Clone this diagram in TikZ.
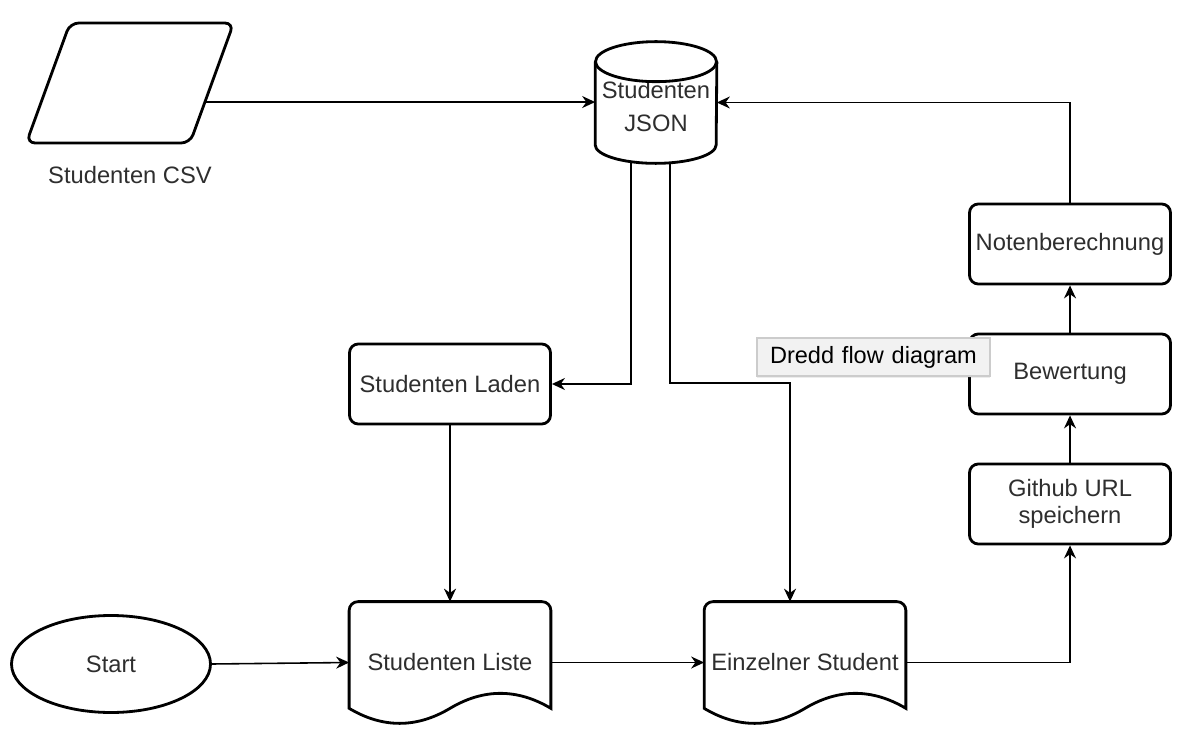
\documentclass[tikz,border=0pt]{standalone}
\usepackage{fontspec}
\setmainfont{Liberation Sans}
\usepackage{tikz}
\usetikzlibrary{calc,shapes,positioning}
\usetikzlibrary{arrows.meta}
\usetikzlibrary{shadows}
\tikzset{>={Stealth[width=2.4mm,length=2.6mm]}}

% outline of a flowchart document (wavy bottom) around a node
\newcommand{\docoutline}[1]{%
  \draw[line width=1.6pt]
    ($(#1.south west)+(0,0.3)$) [rounded corners=5pt] -- (#1.north west) -- (#1.north east)
    [sharp corners] -- ($(#1.south east)+(0,0.3)$)
    .. controls +(-0.67,0.4) and +(0.67,0.4) .. ($(#1.south)+(0,0.3)$)
    .. controls +(-0.67,-0.4) and +(0.67,-0.4) .. cycle;}
% outline of a database cylinder around a node
\newcommand{\dboutline}[1]{%
  \draw[line width=1.6pt] ($(#1.north west)+(0,-0.4)$) -- ($(#1.south west)+(0,0.37)$)
    arc[start angle=180, end angle=360, x radius=1.21cm, y radius=0.37cm]
    -- ($(#1.north east)+(0,-0.4)$);
  \draw[line width=1.6pt] ($(#1.north)+(0,-0.4)$) ellipse[x radius=1.21cm, y radius=0.4cm];}

\begin{document}
\begin{tikzpicture}
      \tikzstyle{txt} = [font=\fontsize{13.5}{15.5}\selectfont, text=black!82]
      \tikzstyle{pnode} = [txt, draw, line width=1.6pt, rectangle, rounded corners = 5pt, minimum width=4.02cm, minimum height=1.6cm, inner sep=2pt, align=center]
      \tikzstyle{dnode} = [txt, rectangle, minimum width=4.02cm, minimum height=2.42cm, inner sep=2pt]
      \tikzstyle{dbnode} = [txt, rectangle, minimum width=2.42cm, minimum height=2.42cm, inner sep=1pt, align=center]
      \tikzstyle{ionode} = [trapezium, trapezium left angle=70, trapezium right angle=110, draw, line width=1.6pt, rounded corners=5pt, minimum width=4cm, minimum height=2.4cm]
      \tikzstyle{tnode} = [txt, ellipse, draw, line width=1.6pt, minimum width=3.98cm, minimum height=1.94cm]
      \tikzstyle{tipnode} = [rectangle, draw=black!20, fill=black!5, line width=0.6pt, minimum width=4.66cm, minimum height=0.76cm, inner xsep=0.26cm, text width=4.14cm, align=left, text=black, font=\fontsize{13.4}{16}\selectfont, drop shadow={opacity=0.15, shadow xshift=0pt, shadow yshift=-1pt}]
      \tikzstyle{conn} = [line width=0.9pt, ->]

      \path[use as bounding box, fill=white] (0,0) rectangle (23.88,-14.96);

      \node[ionode, label={[txt, label distance=0.32cm]below:Studenten CSV}] (csv) at (2.6,-1.66) {};
      \node[dbnode] (json) at (13.12,-2.05) {\raisebox{-4pt}[\height][\depth]{\begin{tabular}{@{}c@{}}Studenten\\[3pt]JSON\end{tabular}}};
      \node[pnode] (laden) at (9,-7.68) {Studenten Laden};
      \node[dnode] (liste) at (9,-13.25) {Studenten Liste};
      \node[dnode] (einz) at (16.1,-13.25) {Einzelner Student};
      \node[tnode] (start) at (2.22,-13.28) {Start};
      \node[pnode] (github) at (21.4,-10.08) {Github URL\\speichern};
      \node[pnode] (bewert) at (21.4,-7.48) {Bewertung};
      \node[pnode] (noten) at (21.4,-4.88) {Notenberechnung};
      \dboutline{json}
      \docoutline{liste}
      \docoutline{einz}

      \coordinate (jl) at ($(json.south)+(-0.5,0.04)$);
      \coordinate (jr) at ($(json.south)+(0.28,0.02)$);
      \coordinate (bend) at (15.8,-7.66);

      \draw[conn] (csv.-14) -- (csv.-14 -| json.west);
      \draw[conn] (noten.north) |- (json.east);
      \draw[conn] (jl) |- (laden.east);
      \draw[conn] (jr) |- (bend) -- (bend |- einz.north);
      \draw[conn] (laden.south) -- (liste.north);
      \draw[conn] (start.east) -- (liste.west);
      \draw[conn] (liste.east) -- (einz.west);
      \draw[conn] (einz.east) -| (github.south);
      \draw[conn] (github.north) -- (bewert.south);
      \draw[conn] (bewert.north) -- (noten.south);

      \node[tipnode] (tip) at (17.47,-7.14) {Dredd flow diagram};
\end{tikzpicture}
\end{document}
